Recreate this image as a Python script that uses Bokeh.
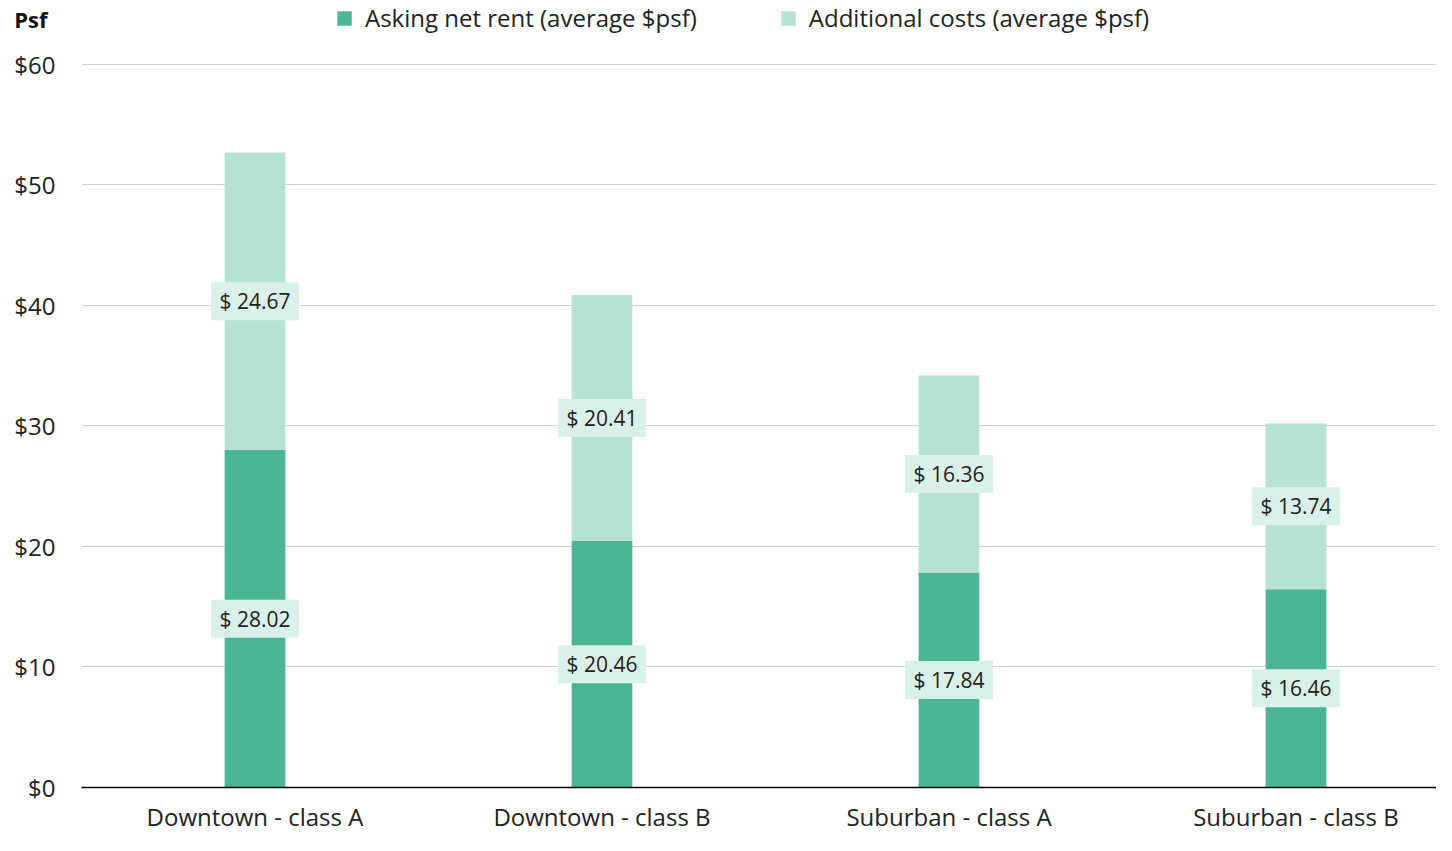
import numpy as np
from bokeh.plotting import figure
from bokeh.layouts import column
from bokeh.models import Range1d, FixedTicker, Legend, ColumnDataSource
from bokeh.core.properties import value
from bokeh.embed import file_html
from bokeh.resources import INLINE

categories = ["Downtown - class A", "Downtown - class B", "Suburban - class A", "Suburban - class B"]
asking_net_rent = [28.02, 20.46, 17.84, 16.46]
additional_costs = [24.67, 20.41, 16.36, 13.74]
y_ticks = [0, 10, 20, 30, 40, 50, 60]
y_tick_labels = ["$0", "$10", "$20", "$30", "$40", "$50", "$60"]
series_names = ["Asking net rent (average $psf)", "Additional costs (average $psf)"]
y_title = "Psf"

DARK = "#4DB597"
LIGHT = "#B6E1D5"
LABEL_BG = "#DAF0EA"
FONT = "Open Sans"
TXT = "#222222"

W = 1436
HEAD_H = 40
MAIN_H = 795
LEFT = 81

xs = np.arange(len(categories)) + 0.5
rent = np.array(asking_net_rent)
add = np.array(additional_costs)
src = ColumnDataSource(dict(x=xs, rent=rent, total=rent + add, add=add,
                            rent_mid=rent / 2, add_mid=rent + add / 2,
                            rent_txt=["$ %.2f" % v for v in rent],
                            add_txt=["$ %.2f" % v for v in add]))

# ---------- header: axis title ("Psf") + legend ----------
# header y-range sits far above the bar values, so the legend proxies stay out of view
head = figure(width=W, height=HEAD_H, output_backend="svg", toolbar_location=None,
              x_range=Range1d(LEFT, W), y_range=Range1d(100, 100 + HEAD_H),
              min_border_left=LEFT, min_border_right=0, min_border_top=0, min_border_bottom=0,
              x_axis_type=None)
head.outline_line_color = None
head.grid.grid_line_color = None
head.background_fill_color = "white"
head.border_fill_color = "white"
h1 = head.vbar(x="x", top="rent", width=0.175, source=src, fill_color=DARK, line_color=None)
h2 = head.vbar(x="x", bottom="rent", top="total", width=0.175, source=src, fill_color=LIGHT, line_color=None)
# "Psf" drawn as the header's single y-axis label
head.yaxis.ticker = FixedTicker(ticks=[122])
head.yaxis.major_label_overrides = {122: y_title}
head.yaxis.axis_line_color = None
head.yaxis.axis_line_alpha = 0
head.yaxis.axis_line_width = 0
head.yaxis.major_tick_line_color = None
head.yaxis.minor_tick_line_color = None
head.yaxis.major_tick_out = 0
head.yaxis.major_tick_in = 0
head.yaxis.major_label_standoff = 34
head.yaxis.major_label_text_font = FONT
head.yaxis.major_label_text_font_size = "22px"
head.yaxis.major_label_text_font_style = "bold"
head.yaxis.major_label_text_color = "#111111"

legend = Legend(items=[(series_names[0], [h1]), (series_names[1], [h2])],
                orientation="horizontal", location=(254, 6),
                glyph_width=18, glyph_height=18, label_standoff=12, spacing=82,
                padding=0, margin=0, border_line_color=None, background_fill_alpha=0,
                label_text_font=FONT, label_text_font_size="24px", label_text_color=TXT)
head.add_layout(legend, "center")

# ---------- main chart ----------
p = figure(width=W, height=MAIN_H, output_backend="svg", toolbar_location=None,
           x_range=Range1d(0, 3.905), y_range=Range1d(0, 61.99),
           min_border_left=LEFT, min_border_right=0, min_border_top=0, min_border_bottom=40)
p.outline_line_color = None
p.background_fill_color = "white"
p.border_fill_color = "white"

bw = 0.175
p.vbar(x="x", bottom=0, top="rent", width=bw, source=src, fill_color=DARK, line_color=None)
p.vbar(x="x", bottom="rent", top="total", width=bw, source=src, fill_color=LIGHT, line_color=None)

# value labels
for mid, txt in (("rent_mid", "rent_txt"), ("add_mid", "add_txt")):
    p.rect(x="x", y=mid, width=88, height=38, width_units="screen", height_units="screen",
           source=src, fill_color=LABEL_BG, line_color=None)
    p.text(x="x", y=mid, text=txt, source=src, text_align="center", text_baseline="middle",
           text_font=value(FONT), text_font_size="21px", text_color=TXT)

# axes
p.yaxis.ticker = FixedTicker(ticks=y_ticks)
p.yaxis.major_label_overrides = {t: l for t, l in zip(y_ticks, y_tick_labels)}
p.yaxis.axis_line_color = None
p.yaxis.major_tick_line_color = None
p.yaxis.minor_tick_line_color = None
p.yaxis.major_tick_out = 0
p.yaxis.major_label_standoff = 26
p.yaxis.major_label_text_font = FONT
p.yaxis.major_label_text_font_size = "24px"
p.yaxis.major_label_text_color = TXT

p.xaxis.ticker = FixedTicker(ticks=list(xs))
p.xaxis.major_label_overrides = {float(x): c for x, c in zip(xs, categories)}
p.xaxis.axis_line_color = "#000000"
p.xaxis.axis_line_width = 1.5
p.xaxis.major_tick_line_color = None
p.xaxis.minor_tick_line_color = None
p.xaxis.major_tick_out = 0
p.xaxis.major_tick_in = 0
p.xaxis.major_label_standoff = 12
p.xaxis.major_label_text_font = FONT
p.xaxis.major_label_text_font_size = "24px"
p.xaxis.major_label_text_color = TXT

p.xgrid.grid_line_color = None
p.ygrid.grid_line_color = "#D0D0D0"
p.ygrid.grid_line_width = 1

layout = column(head, p, spacing=0)
open("out.html", "w").write(file_html(layout, INLINE))
